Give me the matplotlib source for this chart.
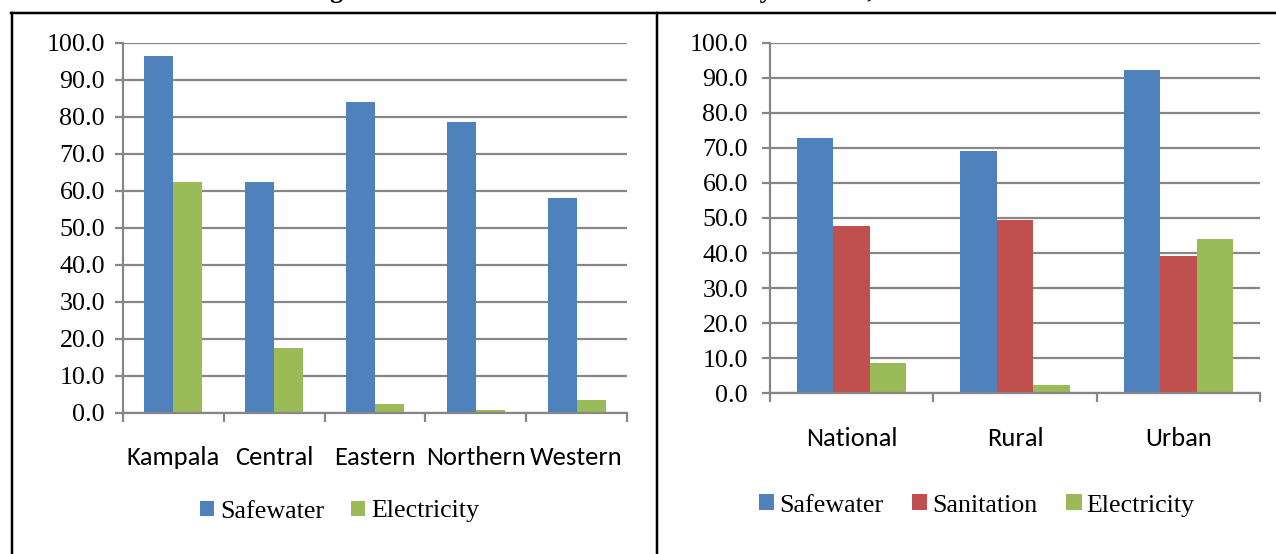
import matplotlib.pyplot as plt
import numpy as np
from matplotlib.lines import Line2D

W, H = 1276, 554
DPI = 100

regions = ["Kampala", "Central", "Eastern", "Northern", "Western"]
region_safewater = [96.4, 62.3, 84.0, 78.5, 58.1]
region_electricity = [62.3, 17.6, 2.3, 0.7, 3.3]

locations = ["National", "Rural", "Urban"]
loc_safewater = [72.7, 69.2, 92.2]
loc_sanitation = [47.8, 49.4, 39.2]
loc_electricity = [8.6, 2.3, 43.9]

BLUE = "#4F81BD"
RED = "#C0504D"
GREEN = "#9BBB59"
GRID = "#868686"

SERIF = "Liberation Serif"
SANS = ["Carlito", "Lato", "DejaVu Sans"]
px = 72.0 / DPI  # points per pixel


def axes_px(x0, x1, ytop, ybot):
    return fig.add_axes([x0 / W, (H - ybot) / H, (x1 - x0) / W, (ybot - ytop) / H])


def style_axes(ax, cats):
    n = len(cats)
    ax.set_xlim(-0.5, n - 0.5)
    ax.set_ylim(0, 100)
    ax.set_yticks(np.arange(0, 101, 10))
    ax.set_yticklabels([f"{v:.1f}" for v in np.arange(0, 101, 10)],
                       fontfamily=SERIF, fontsize=26 * px)
    ax.yaxis.grid(True, color=GRID, linewidth=2.2 * px)
    ax.set_axisbelow(True)
    for s in ["top", "right"]:
        ax.spines[s].set_visible(False)
    for s in ["left", "bottom"]:
        ax.spines[s].set_color(GRID)
        ax.spines[s].set_linewidth(2.2 * px)
    ax.tick_params(axis="y", length=8 * px, width=2.2 * px, color=GRID, pad=10 * px)
    # boundary ticks on the category axis, names centred between them
    ax.set_xticks(np.arange(n + 1) - 0.5)
    ax.set_xticklabels([])
    ax.set_xticks(np.arange(n), minor=True)
    ax.set_xticklabels(cats, minor=True, fontfamily=SANS, fontsize=26.5 * px, va="center")
    ax.tick_params(axis="x", which="major", length=9 * px, width=2.2 * px, color=GRID)
    ax.tick_params(axis="x", which="minor", length=0, pad=45 * px)


fig = plt.figure(figsize=(W / DPI, H / DPI), dpi=DPI)

# regional chart
ax1 = axes_px(123, 627, 42.7, 412.7)
x = np.arange(len(regions))
bw = 0.288
ax1.bar(x - bw / 2, region_safewater, bw, color=BLUE, label="Safewater")
ax1.bar(x + bw / 2, region_electricity, bw, color=GREEN, label="Electricity")
style_axes(ax1, regions)
ax1.legend(loc="center", bbox_to_anchor=(339.5 / W, (H - 511.5) / H),
           bbox_transform=fig.transFigure, ncol=2, frameon=False,
           prop={"family": SERIF, "size": 26 * px},
           handlelength=0.54, handleheight=0.52, handletextpad=0.23,
           columnspacing=1.05, borderpad=0, borderaxespad=0)

# national / rural / urban chart
ax2 = axes_px(770, 1260, 42.7, 393.3)
x = np.arange(len(locations))
bw = 0.223
ax2.bar(x - bw, loc_safewater, bw, color=BLUE, label="Safewater")
ax2.bar(x, loc_sanitation, bw, color=RED, label="Sanitation")
ax2.bar(x + bw, loc_electricity, bw, color=GREEN, label="Electricity")
style_axes(ax2, locations)
ax2.tick_params(axis="y", pad=14 * px)
ax2.legend(loc="center", bbox_to_anchor=(977 / W, (H - 505.5) / H),
           bbox_transform=fig.transFigure, ncol=3, frameon=False,
           prop={"family": SERIF, "size": 26 * px},
           handlelength=0.58, handleheight=0.56, handletextpad=0.2,
           columnspacing=1.1, borderpad=0, borderaxespad=0)

# page frame around the two panels
lw = 2.5 * px
fig.add_artist(Line2D([11 / W, 1], [(H - 13) / H] * 2, color="black", lw=lw))
fig.add_artist(Line2D([12 / W] * 2, [0, (H - 13) / H], color="black", lw=lw))
fig.add_artist(Line2D([656.5 / W] * 2, [0, (H - 13) / H], color="black", lw=lw))

# caption sits above the page edge, only its lowest strokes show
fig.text(636 / W, (H + 2) / H, "Figure 4: Access to basic social services by location, 2009/10",
         ha="center", va="baseline", fontfamily=SERIF, fontweight="bold",
         fontsize=26 * px)

fig.savefig("out.png", dpi=DPI)
